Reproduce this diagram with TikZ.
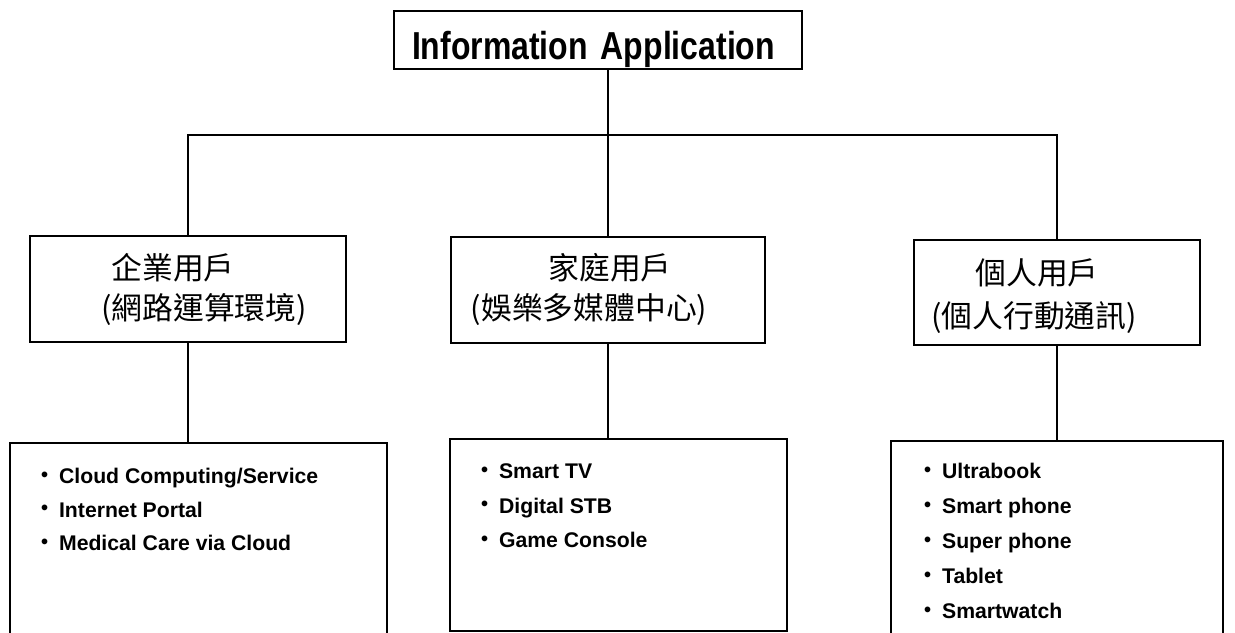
\documentclass[tikz,border=0pt]{standalone}
\usepackage{fontspec}
\newfontfamily\headfont[FakeStretch=0.82]{Liberation Sans Bold}
\newfontfamily\listfont{Liberation Sans Bold}
\newfontfamily\cjk{Noto Sans CJK TC}
\newcommand{\itm}{\makebox[9pt][l]{\raisebox{1.2pt}{\fontsize{10pt}{10pt}\selectfont •}}}

\begin{document}
\begin{tikzpicture}[x=0.5pt, y=-0.5pt, line width=1.1pt,
    box/.style={draw, rectangle, inner sep=0pt},
    cjktext/.style={font=\cjk\fontsize{15.4pt}{18pt}\selectfont, inner sep=0pt},
    items/.style={align=left, anchor=north west, inner sep=0pt}]
  \useasboundingbox (0,0) rectangle (1235,632);
  \clip (0,0) rectangle (1235,632);

  % Nodes
  \node[box, text width=186pt, inner xsep=9pt, text height=24pt, text depth=5pt, align=left,
        font=\headfont\fontsize{19.5pt}{20pt}\selectfont] (app) at (598,40) {Information Application};

  \node[box, minimum width=158pt, minimum height=53pt] (ent) at (188,289) {};
  \node[box, minimum width=157pt, minimum height=53pt] (home) at (608,290) {};
  \node[box, minimum width=143pt, minimum height=52.5pt] (pers) at (1057,292.5) {};

  \node[cjktext] (ent1) at (173,268) {企業用戶};
  \node[cjktext] (ent2) at (204,309) {(網路運算環境)};
  \node[cjktext] (home1) at (610,268) {家庭用戶};
  \node[cjktext] (home2) at (589,310) {(娛樂多媒體中心)};
  \node[cjktext] (pers1) at (1037,273) {個人用戶};
  \node[cjktext] (pers2) at (1034,318) {(個人行動通訊)};

  \node[box, minimum width=188.5pt, minimum height=98.5pt] (entlist) at (198.5,541.5) {};
  \node[box, minimum width=168.5pt, minimum height=96pt] (homelist) at (618.5,535) {};
  \node[box, minimum width=166pt, minimum height=99.5pt] (perslist) at (1057,540.5) {};

  \node[items, font=\listfont\fontsize{10.6pt}{16.8pt}\selectfont] (entitems) at (40,467)
    {\itm Cloud Computing/Service\\ \itm Internet Portal\\ \itm Medical Care via Cloud};
  \node[items, font=\listfont\fontsize{10.6pt}{17.2pt}\selectfont] (homeitems) at (480,463)
    {\itm Smart TV\\ \itm Digital STB\\ \itm Game Console};
  \node[items, font=\listfont\fontsize{10.6pt}{17.5pt}\selectfont] (persitems) at (923,462)
    {\itm Ultrabook\\ \itm Smart phone\\ \itm Super phone\\ \itm Tablet\\ \itm Smartwatch};

  % Lines
  \coordinate (bus) at (608,135);
  \draw (app.south -| home.north) -- (home.north);
  \draw (ent.north) |- (bus) -| (pers.north);
  \draw (ent.south) -- (ent.south |- entlist.north);
  \draw (home.south) -- (home.south |- homelist.north);
  \draw (pers.south) -- (pers.south |- perslist.north);
\end{tikzpicture}
\end{document}
